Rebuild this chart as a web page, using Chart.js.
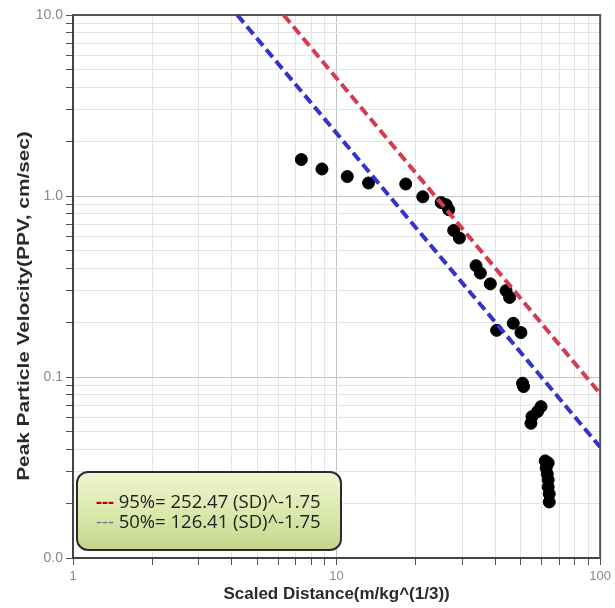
<!DOCTYPE html>
<html>
<head>
<meta charset="utf-8">
<script src="https://cdn.jsdelivr.net/npm/chart.js@4.4.1/dist/chart.umd.min.js"></script>
<style>
  html, body { margin: 0; padding: 0; background: #fff; }
</style>
</head>
<body>
<canvas id="ppvChart" width="615" height="608"></canvas>
<script>
// measured blasts: scaled distance vs peak particle velocity
const scaledDistance = [
  7.35, 8.80, 10.98, 13.22, 18.30, 21.23, 24.93, 26.04, 26.64, 27.82, 29.24,
  33.82, 35.12, 38.31, 43.95, 45.33, 40.48, 46.82, 50.06, 50.77, 51.22,
  59.63, 57.88, 55.11, 54.63, 61.9, 63.5, 62.4, 63.0, 63.5, 63.5, 64.1, 64.1
];
const peakVelocity = [
  1.59, 1.41, 1.28, 1.18, 1.165, 0.99, 0.92, 0.895, 0.84, 0.645, 0.586,
  0.412, 0.375, 0.327, 0.300, 0.275, 0.181, 0.198, 0.176, 0.0924, 0.0885,
  0.0686, 0.0644, 0.0604, 0.0555, 0.0344, 0.0335, 0.0314, 0.0291, 0.0270, 0.0247, 0.0226, 0.0204
];

// fit lines, end points
const fit95X = [6.3, 100];
const fit95Y = [10, 0.081];
const fit50X = [4.2, 100];
const fit50Y = [10, 0.041];
const fitLabels = ['95%= 252.47 (SD)^-1.75', '50%= 126.41 (SD)^-1.75'];

const xMajorTicks = [1, 10, 100];
const xTickLabels = ['1', '10', '100'];
const yMajorTicks = [0.01, 0.1, 1, 10];
const yTickLabels = ['0.0', '0.1', '1.0', '10.0'];

function logTicks(majors) {
  const out = [];
  for (let i = 0; i < majors.length - 1; i++) {
    for (let m = 1; m < 10; m++) out.push(majors[i] * m);
  }
  out.push(majors[majors.length - 1]);
  return out.map(v => ({ value: v }));
}

function toPoints(xs, ys) {
  return xs.map((x, i) => ({ x: x, y: ys[i] }));
}

// top + right frame lines
const framePlugin = {
  id: 'framePlugin',
  beforeDatasetsDraw(chart) {
    const { ctx, chartArea: a } = chart;
    ctx.save();
    ctx.strokeStyle = '#555';
    ctx.lineWidth = 2;
    ctx.beginPath();
    ctx.moveTo(a.left, a.top);
    ctx.lineTo(a.right, a.top);
    ctx.lineTo(a.right, a.bottom);
    ctx.stroke();
    ctx.restore();
  }
};

// y title drawn by hand (the original is stretched along its length)
const yTitlePlugin = {
  id: 'yTitlePlugin',
  afterDraw(chart) {
    const ctx = chart.ctx;
    ctx.save();
    ctx.translate(25, 306);
    ctx.rotate(-Math.PI / 2);
    ctx.scale(1.3, 1);
    ctx.font = 'bold 16px "Liberation Sans", Arial, sans-serif';
    ctx.fillStyle = '#2a2a2a';
    ctx.textAlign = 'center';
    ctx.textBaseline = 'middle';
    ctx.fillText('Peak Particle Velocity(PPV, cm/sec)', 0, 0);
    ctx.restore();
  }
};

// green rounded box with the two equations
const equationBox = {
  id: 'equationBox',
  afterDraw(chart) {
    const { ctx, chartArea: a } = chart;
    const left = a.left + 4, top = a.bottom - 86, w = 264, h = 78;
    ctx.save();
    const g = ctx.createLinearGradient(0, top, 0, top + h);
    g.addColorStop(0, '#eef5d2');
    g.addColorStop(0.5, '#dce9ae');
    g.addColorStop(1, '#c3d68c');
    ctx.beginPath();
    ctx.roundRect(left, top, w, h, 11);
    ctx.fillStyle = g;
    ctx.fill();
    ctx.lineWidth = 2;
    ctx.strokeStyle = '#2b2b2b';
    ctx.stroke();

    const sets = chart.data.datasets;
    const dashColors = ['#c00000', '#5f7888'];
    ctx.textBaseline = 'middle';
    ctx.textAlign = 'left';
    [0, 1].forEach(i => {
      const y = top + 31 + i * 20;
      ctx.font = (i === 0 ? 'bold ' : '') + '18.5px "Open Sans", sans-serif';
      ctx.fillStyle = dashColors[i];
      ctx.fillText('---', left + 19, y);
      ctx.font = '18.5px "Open Sans", sans-serif';
      const dw = ctx.measureText('--- ').width;
      ctx.fillStyle = '#222';
      ctx.fillText(sets[i].label, left + 19 + dw, y);
    });
    ctx.restore();
  }
};

const ctx = document.getElementById('ppvChart').getContext('2d');
const ppvChart = new Chart(ctx, {
  type: 'scatter',
  data: {
    datasets: [
      {
        type: 'line',
        label: fitLabels[0],
        data: toPoints(fit95X, fit95Y),
        borderColor: '#d63c50',
        borderWidth: 4,
        borderDash: [10, 5],
        pointRadius: 0,
        fill: false
      },
      {
        type: 'line',
        label: fitLabels[1],
        data: toPoints(fit50X, fit50Y),
        borderColor: '#3434cc',
        borderWidth: 4,
        borderDash: [10, 5],
        pointRadius: 0,
        fill: false
      },
      {
        label: 'PPV',
        data: toPoints(scaledDistance, peakVelocity),
        backgroundColor: '#000',
        borderColor: '#000',
        pointRadius: 6,
        pointHoverRadius: 6
      }
    ]
  },
  options: {
    responsive: false,
    animation: false,
    layout: { padding: { top: 15, right: 14, left: 0, bottom: 0 } },
    plugins: {
      legend: { display: false },
      tooltip: { enabled: false }
    },
    scales: {
      x: {
        type: 'logarithmic',
        min: 1,
        max: 100,
        afterBuildTicks: (scale) => { scale.ticks = logTicks(xMajorTicks); },
        afterFit: (scale) => { scale.height = 50; },
        ticks: {
          autoSkip: false,
          maxRotation: 0,
          padding: 4,
          color: '#8a8a8a',
          font: { family: '"Liberation Sans", Arial, sans-serif', size: 13 },
          callback: (v) => {
            const i = xMajorTicks.indexOf(v);
            return i >= 0 ? xTickLabels[i] : '';
          }
        },
        grid: {
          color: (c) => (c.tick && xMajorTicks.includes(c.tick.value)) ? '#c4c4c4' : '#e4e4e4',
          tickColor: '#555',
          tickLength: 7
        },
        border: { color: '#444', width: 2 },
        title: {
          display: true,
          text: 'Scaled Distance(m/kg^(1/3))',
          color: '#2a2a2a',
          font: { family: '"Liberation Sans", Arial, sans-serif', size: 17, weight: 'bold' },
          padding: { top: 0, bottom: 3 }
        }
      },
      y: {
        type: 'logarithmic',
        min: 0.01,
        max: 10,
        afterBuildTicks: (scale) => { scale.ticks = logTicks(yMajorTicks); },
        afterFit: (scale) => { scale.width = 73; },
        ticks: {
          autoSkip: false,
          padding: 3,
          color: '#8a8a8a',
          font: { family: '"Liberation Sans", Arial, sans-serif', size: 14 },
          callback: (v) => {
            const i = yMajorTicks.indexOf(v);
            return i >= 0 ? yTickLabels[i] : '';
          }
        },
        grid: {
          color: (c) => (c.tick && yMajorTicks.includes(c.tick.value)) ? '#c4c4c4' : '#e4e4e4',
          tickColor: '#555',
          tickLength: 7
        },
        border: { color: '#444', width: 2 }
      }
    }
  },
  plugins: [framePlugin, yTitlePlugin, equationBox]
});
</script>
</body>
</html>
